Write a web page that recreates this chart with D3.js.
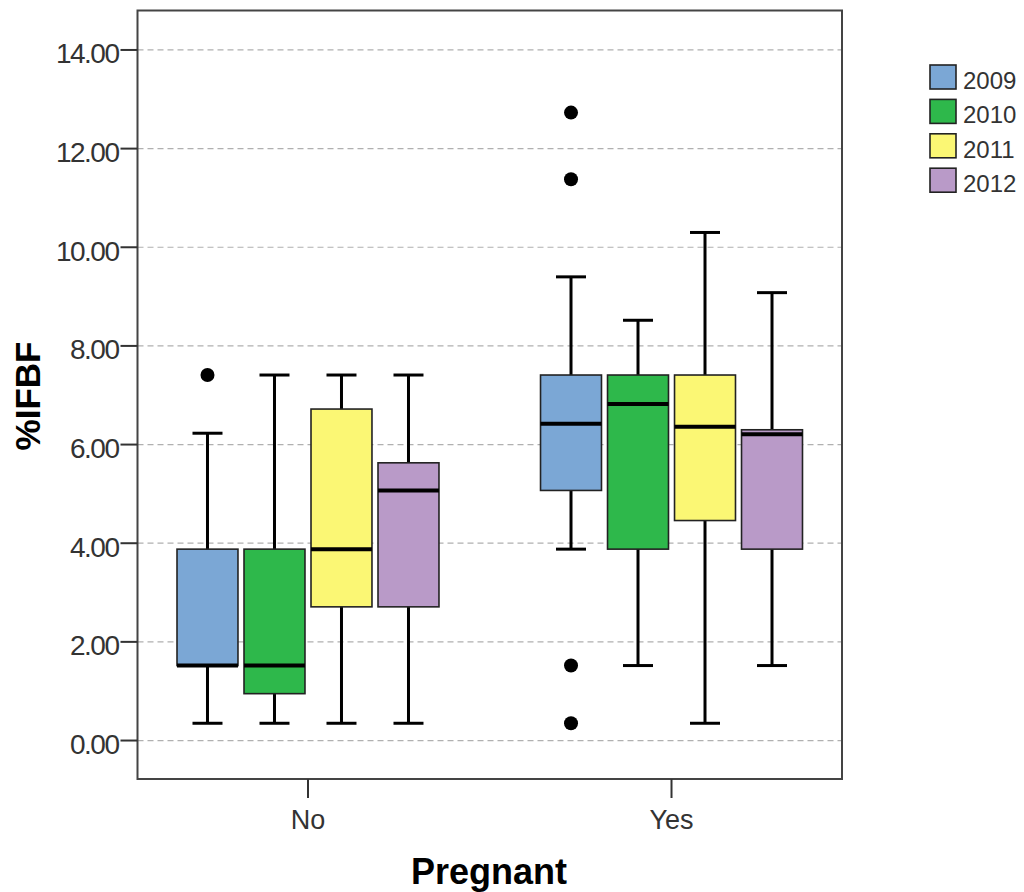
<!DOCTYPE html>
<html>
<head>
<meta charset="utf-8">
<script src="https://cdn.jsdelivr.net/npm/d3@7"></script>
<style>
  body { margin: 0; background: #fff; }
  text { font-family: "Liberation Sans", Arial, sans-serif; }
</style>
</head>
<body>
<script>
// categories
const groups = ['No', 'Yes'];
const years = ['2009', '2010', '2011', '2012'];
const colors = ['#7ba7d5', '#2eb84b', '#fbf774', '#b99ac8'];

// box stats per year: [low whisker, q1, median, q3, high whisker]
const statsNo = [
  [0.35, 1.52, 1.52, 3.88, 6.23],
  [0.35, 0.95, 1.52, 3.88, 7.41],
  [0.35, 2.71, 3.88, 6.72, 7.41],
  [0.35, 2.71, 5.07, 5.63, 7.41]
];
const statsYes = [
  [3.88, 5.07, 6.42, 7.41, 9.40],
  [1.52, 3.88, 6.82, 7.41, 8.52],
  [0.35, 4.46, 6.36, 7.41, 10.30],
  [1.52, 3.88, 6.21, 6.30, 9.08]
];
// outliers per year
const outliersNo = [[7.41], [], [], []];
const outliersYes = [[12.73, 11.38, 1.52, 0.35], [], [], []];

const yTicks = [0, 2, 4, 6, 8, 10, 12, 14];

const width = 1024, height = 892;
const svg = d3.select('body').append('svg').attr('width', width).attr('height', height);

// plot frame
const plotLeft = 137.5, plotRight = 842, plotTop = 10.5, plotBottom = 779;

const y = d3.scaleLinear().domain([-0.78, 14.8]).range([plotBottom, plotTop]);
const x = d3.scalePoint().domain(groups).range([plotLeft, plotRight]).padding(0.469);
const xi = d3.scaleBand().domain(years).range([-134, 134]).paddingInner(0.09).paddingOuter(0.045);

// grid lines
svg.selectAll('.grid')
  .data(yTicks)
  .enter()
  .append('line')
  .attr('x1', plotLeft).attr('x2', plotRight)
  .attr('y1', d => y(d)).attr('y2', d => y(d))
  .attr('stroke', '#b0b0b0')
  .attr('stroke-width', 1.2)
  .attr('stroke-dasharray', '6,4');

// build flat list of boxes
const boxes = [];
groups.forEach((g, gi) => {
  const st = gi === 0 ? statsNo : statsYes;
  const ol = gi === 0 ? outliersNo : outliersYes;
  years.forEach((yr, i) => {
    boxes.push({ group: g, year: yr, color: colors[i], s: st[i], out: ol[i] });
  });
});

const cx = d => x(d.group) + xi(d.year) + xi.bandwidth() / 2;
const capW = 30;

const box = svg.selectAll('.box')
  .data(boxes)
  .enter()
  .append('g')
  .attr('class', 'box');

// whiskers
box.append('line')
  .attr('x1', cx).attr('x2', cx)
  .attr('y1', d => y(d.s[0])).attr('y2', d => y(d.s[4]))
  .attr('stroke', '#000').attr('stroke-width', 3);
box.append('line')
  .attr('x1', d => cx(d) - capW / 2).attr('x2', d => cx(d) + capW / 2)
  .attr('y1', d => y(d.s[0])).attr('y2', d => y(d.s[0]))
  .attr('stroke', '#000').attr('stroke-width', 3);
box.append('line')
  .attr('x1', d => cx(d) - capW / 2).attr('x2', d => cx(d) + capW / 2)
  .attr('y1', d => y(d.s[4])).attr('y2', d => y(d.s[4]))
  .attr('stroke', '#000').attr('stroke-width', 3);

// boxes
box.append('rect')
  .attr('x', d => x(d.group) + xi(d.year))
  .attr('width', xi.bandwidth())
  .attr('y', d => y(d.s[3]))
  .attr('height', d => y(d.s[1]) - y(d.s[3]))
  .attr('fill', d => d.color)
  .attr('stroke', '#222').attr('stroke-width', 1.6);

// medians
box.append('line')
  .attr('x1', d => x(d.group) + xi(d.year)).attr('x2', d => x(d.group) + xi(d.year) + xi.bandwidth())
  .attr('y1', d => y(d.s[2])).attr('y2', d => y(d.s[2]))
  .attr('stroke', '#000').attr('stroke-width', 4);

// outliers
box.selectAll('.out')
  .data(d => d.out.map(v => ({ v: v, cx: cx(d) })))
  .enter()
  .append('circle')
  .attr('cx', d => d.cx).attr('cy', d => y(d.v))
  .attr('r', 7).attr('fill', '#000');

// frame
svg.append('rect')
  .attr('x', plotLeft).attr('y', plotTop)
  .attr('width', plotRight - plotLeft).attr('height', plotBottom - plotTop)
  .attr('fill', 'none').attr('stroke', '#444').attr('stroke-width', 2);

// y ticks
svg.selectAll('.ytick')
  .data(yTicks)
  .enter()
  .append('line')
  .attr('x1', plotLeft - 17).attr('x2', plotLeft)
  .attr('y1', d => y(d)).attr('y2', d => y(d))
  .attr('stroke', '#333').attr('stroke-width', 2);
svg.selectAll('.ylab')
  .data(yTicks)
  .enter()
  .append('text')
  .attr('x', plotLeft - 19)
  .attr('y', d => y(d) + 13.5)
  .attr('text-anchor', 'end')
  .attr('font-size', 28)
  .attr('letter-spacing', -1.5)
  .attr('fill', '#333')
  .text(d => d3.format('.2f')(d));

// x ticks
svg.selectAll('.xtick')
  .data(groups)
  .enter()
  .append('line')
  .attr('x1', d => x(d)).attr('x2', d => x(d))
  .attr('y1', plotBottom).attr('y2', plotBottom + 19)
  .attr('stroke', '#333').attr('stroke-width', 2);
svg.selectAll('.xlab')
  .data(groups)
  .enter()
  .append('text')
  .attr('x', d => x(d))
  .attr('y', 829)
  .attr('text-anchor', 'middle')
  .attr('font-size', 27)
  .attr('fill', '#333')
  .text(d => d);

// axis titles
svg.append('text')
  .attr('x', 489).attr('y', 884)
  .attr('text-anchor', 'middle')
  .attr('font-size', 36)
  .attr('font-weight', 'bold')
  .attr('fill', '#000')
  .text('Pregnant');
svg.append('text')
  .attr('transform', 'translate(40,396) rotate(-90)')
  .attr('text-anchor', 'middle')
  .attr('font-size', 35)
  .attr('font-weight', 'bold')
  .attr('fill', '#000')
  .text('%IFBF');

// legend
const leg = svg.selectAll('.leg')
  .data(years)
  .enter()
  .append('g')
  .attr('transform', (d, i) => `translate(930,${65 + i * 34.4})`);
leg.append('rect')
  .attr('width', 26).attr('height', 24)
  .attr('fill', (d, i) => colors[i])
  .attr('stroke', '#222').attr('stroke-width', 1.6);
leg.append('text')
  .attr('x', 33).attr('y', 24)
  .attr('font-size', 24)
  .attr('fill', '#333')
  .text(d => d);
</script>
</body>
</html>
